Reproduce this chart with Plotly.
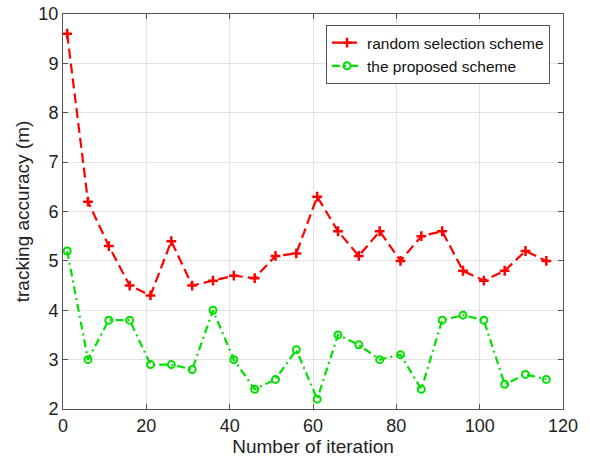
import plotly.graph_objects as go

iterations = [1, 6, 11, 16, 21, 26, 31, 36, 41, 46, 51, 56, 61, 66, 71, 76, 81, 86, 91, 96, 101, 106, 111, 116]
random_scheme = [9.6, 6.2, 5.3, 4.5, 4.3, 5.4, 4.5, 4.6, 4.7, 4.65, 5.1, 5.15, 6.3, 5.6, 5.1, 5.6, 5.0, 5.5, 5.6, 4.8, 4.6, 4.8, 5.2, 5.0]
proposed_scheme = [5.2, 3.0, 3.8, 3.8, 2.9, 2.9, 2.8, 4.0, 3.0, 2.4, 2.6, 3.2, 2.2, 3.5, 3.3, 3.0, 3.1, 2.4, 3.8, 3.9, 3.8, 2.5, 2.7, 2.6]

fig = go.Figure()
fig.add_trace(go.Scatter(
    x=iterations, y=random_scheme, mode="lines+markers",
    name="random selection scheme",
    line=dict(color="#ff0000", width=2.2, dash="10px,5px"),
    marker=dict(symbol="cross-thin", size=7, line=dict(color="#ff0000", width=2.5), color="#ff0000"),
))
fig.add_trace(go.Scatter(
    x=iterations, y=proposed_scheme, mode="lines+markers",
    name="the proposed scheme",
    line=dict(color="#00e000", width=2.2, dash="8px,4px,2px,4px"),
    marker=dict(symbol="circle-open", size=7, line=dict(color="#00e000", width=2), color="#00e000"),
))

axis_common = dict(
    showgrid=True, gridcolor="#e3e3e3", gridwidth=1,
    showline=True, linecolor="#555555", linewidth=1, mirror="ticks",
    ticks="inside", ticklen=5, tickcolor="#555555",
    tickfont=dict(family="Liberation Sans, Arial, sans-serif", size=18, color="#222222"),
    zeroline=False, automargin=False,
)

fig.update_layout(
    width=590, height=460,
    margin=dict(l=63, r=27, t=14, b=51, autoexpand=False),
    paper_bgcolor="white", plot_bgcolor="white",
    font=dict(family="Liberation Sans, Arial, sans-serif", color="#222222"),
    xaxis=dict(range=[0, 120], dtick=20,
               title=dict(text="Number of iteration", font=dict(size=19), standoff=4), **axis_common),
    yaxis=dict(range=[2, 10], dtick=1,
               title=dict(text="tracking accuracy (m)", font=dict(size=19), standoff=3), **axis_common),
    legend=dict(x=0.526, y=0.972, xanchor="left", yanchor="top",
                bgcolor="white", bordercolor="#555555", borderwidth=1,
                font=dict(size=15.5, color="#111111"), tracegroupgap=0, itemwidth=30),
    showlegend=True,
)

fig.write_html("out.html", config={"displayModeBar": False},
               post_script="document.body.style.margin='0';")
